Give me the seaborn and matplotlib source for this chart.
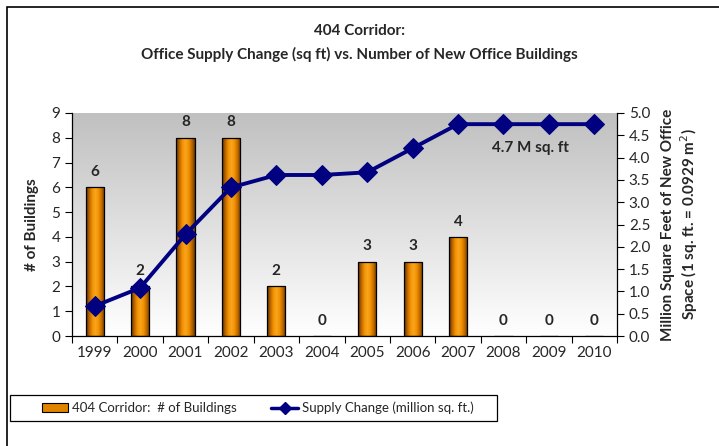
import numpy as np
import pandas as pd
import matplotlib
matplotlib.use("Agg")
import matplotlib.pyplot as plt
from matplotlib.patches import Rectangle
from matplotlib.lines import Line2D
import seaborn as sns

# data
years = ["1999", "2000", "2001", "2002", "2003", "2004",
         "2005", "2006", "2007", "2008", "2009", "2010"]
buildings = [6, 2, 8, 8, 2, 0, 3, 3, 4, 0, 0, 0]
supply_msf = [0.67, 1.08, 2.28, 3.33, 3.61, 3.61, 3.67, 4.21, 4.75, 4.75, 4.75, 4.75]

title_1 = "404 Corridor:"
title_2 = "Office Supply Change (sq ft) vs. Number of New Office Buildings"
bar_label = "404 Corridor:  # of Buildings"
line_label = "Supply Change (million sq. ft.)"

sns.set_style("white")
plt.rcParams['font.family'] = ['Lato', 'DejaVu Sans']

df = pd.DataFrame({"year": years, "buildings": buildings, "supply": supply_msf})

fig = plt.figure(figsize=(7.19, 4.46), dpi=100)
ax = fig.add_axes([72 / 719, 1 - 336 / 446, 545 / 719, 223 / 446])

# grey-to-white gradient background
grad = np.linspace(1.0, 0.0, 256).reshape(-1, 1)
ax.imshow(grad, extent=[0, 1, 0, 1], transform=ax.transAxes, aspect='auto',
          cmap=matplotlib.colors.LinearSegmentedColormap.from_list("bg", ["#ffffff", "#c0c0c0"]),
          zorder=0)

sns.barplot(data=df, x="year", y="buildings", color="#F39200", width=0.4,
            edgecolor="black", linewidth=0.9, ax=ax, zorder=2)

# orange horizontal gradient inside bars
bar_cmap = matplotlib.colors.LinearSegmentedColormap.from_list(
    "bar", ["#5a3000", "#b86200", "#F39200", "#F8A620", "#F39200", "#c06a00", "#6b3a00"])
hgrad = np.linspace(0, 1, 64).reshape(1, -1)
for p in list(ax.patches):
    if p.get_height() > 0:
        x0, w, h = p.get_x(), p.get_width(), p.get_height()
        im = ax.imshow(hgrad, extent=[x0, x0 + w, 0, h], aspect='auto', cmap=bar_cmap, zorder=2.5)
        im.set_clip_path(p)
        p.set_facecolor("none")
        p.set_zorder(3)

for i, v in enumerate(buildings):
    ax.text(i, v + 0.62, str(v), ha='center', va='center', fontsize=11, fontweight='bold')

ax.set_xlim(-0.5, len(years) - 0.5)
ax.set_ylim(0, 9)
ax.set_yticks(range(0, 10))
ax.set_xlabel("")
ax.set_ylabel("# of Buildings", fontsize=11, fontweight='bold', labelpad=9)
ax.set_xticks(range(len(years)))
ax.set_xticklabels(years)
ax.set_xticks(np.arange(-0.5, len(years)), minor=True)
ax.tick_params(axis='x', which='major', length=0, labelsize=11, pad=7)
ax.tick_params(axis='x', which='minor', length=5, width=0.8, color='black', direction='out', bottom=True)
ax.tick_params(axis='y', length=5, width=0.8, color='black', direction='out', left=True, labelsize=11)
for s in ['left', 'bottom']:
    ax.spines[s].set_color('black')
    ax.spines[s].set_linewidth(0.9)
for s in ['top', 'right']:
    ax.spines[s].set_visible(False)

ax2 = ax.twinx()
sns.lineplot(data=df, x="year", y="supply", color="#000080", linewidth=2.8, marker='D',
             markersize=10, markeredgecolor="#000080", ax=ax2, zorder=5, sort=False)
ax2.set_ylim(0, 5)
ax2.set_yticks(np.arange(0, 5.01, 0.5))
ax2.set_yticklabels([f"{v:.1f}" for v in np.arange(0, 5.01, 0.5)])
ax2.set_xlim(-0.5, len(years) - 0.5)
ax2.set_ylabel("Million Square Feet of New Office\nSpace (1 sq. ft. = 0.0929 m$^2$)",
               fontsize=11, fontweight='bold', labelpad=8)
ax2.tick_params(axis='y', length=5, width=0.8, color='black', direction='out', right=True, labelsize=11)
for s in ['left', 'bottom', 'top']:
    ax2.spines[s].set_visible(False)
ax2.spines['right'].set_color('black')
ax2.spines['right'].set_linewidth(0.9)
ax2.text(9.6, 4.22, "4.7 M sq. ft", ha='center', va='center', fontsize=11, fontweight='bold')

fig.text(0.5, 1 - 31 / 446, title_1, ha='center', va='center', fontsize=11, fontweight='bold')
fig.text(0.5, 1 - 54 / 446, title_2, ha='center', va='center', fontsize=11, fontweight='bold')

# legend (frame drawn separately to match the wide box)
handles = [Rectangle((0, 0), 1, 1, facecolor="#E08400", edgecolor="black", linewidth=0.8),
           Line2D([0], [0], color="#000080", linewidth=2.5, marker='D', markersize=6)]
leg = fig.legend(handles, [bar_label, line_label], loc='center left',
                 bbox_to_anchor=(42 / 719, 1 - 408 / 446), ncol=2, frameon=False,
                 fontsize=9.5, columnspacing=2.6, handlelength=2.0, handletextpad=0.3,
                 borderpad=0.0, borderaxespad=0.0)
fig.patches.append(Rectangle((10 / 719, 1 - 421 / 446), 487 / 719, 26 / 446,
                             transform=fig.transFigure, fill=False, edgecolor='black', linewidth=0.9))

# outer chart frame
fig.patches.append(Rectangle((7 / 719, -0.1), 1.2, 1 - 7 / 446 + 0.1, transform=fig.transFigure,
                             fill=False, edgecolor='black', linewidth=1.2))

fig.savefig("out.png", dpi=100)
